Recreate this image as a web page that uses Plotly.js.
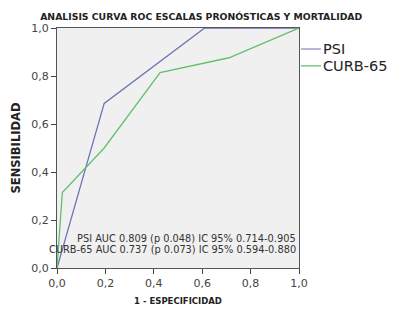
<!DOCTYPE html>
<html><head><meta charset="utf-8">
<script src="https://cdn.plot.ly/plotly-3.0.1.min.js"></script>
<style>body{margin:0;padding:0;background:#fff}#chart{width:393px;height:315px}</style>
</head><body><div id="chart"></div>
<script>
const psiX = [0, 0.195, 0.61, 1.0];
const psiY = [0, 0.686, 1.0, 1.0];
const curbX = [0, 0.022, 0.195, 0.426, 0.711, 1.0];
const curbY = [0, 0.314, 0.50, 0.814, 0.876, 1.0];
const seriesNames = ['PSI', 'CURB-65'];
const seriesColors = ['#6d72b8', '#62c06e'];
const aucLines = ['PSI AUC 0.809 (p 0.048) IC 95% 0.714-0.905', 'CURB-65 AUC 0.737 (p 0.073) IC 95% 0.594-0.880'];
const tickVals = [0, 0.2, 0.4, 0.6, 0.8, 1.0];

const F = '"DejaVu Sans", "Open Sans", sans-serif';
const traces = [
  {x: psiX, y: psiY, mode: 'lines', name: seriesNames[0], line: {color: seriesColors[0], width: 1.3}},
  {x: curbX, y: curbY, mode: 'lines', name: seriesNames[1], line: {color: seriesColors[1], width: 1.3}}
];
const axBase = {range: [0, 1], tickvals: tickVals, tickformat: '.1f', ticks: 'outside', ticklen: 5, tickcolor: '#444',
  showline: true, linecolor: '#555', linewidth: 1, mirror: true, showgrid: false, zeroline: false,
  tickfont: {family: F, size: 11, color: '#444'}};
// legend keys (outside the plot, right side)
const legendY = [0.9125, 0.842];
const legendAnn = seriesNames.map((n, i) => ({
  xref: 'paper', yref: 'paper', x: 1.008, y: legendY[i], ax: 20, ay: 0, xanchor: 'left', yanchor: 'middle',
  text: n, showarrow: true, arrowhead: 0, arrowwidth: 1.2, arrowcolor: seriesColors[i], standoff: 0, startstandoff: 0,
  font: {family: F, size: 14.5, color: '#222'}
}));
const aucY = [0.121, 0.079];
const aucAnn = aucLines.map((t, i) => ({
  xref: 'paper', yref: 'paper', x: 0.997, y: aucY[i], xanchor: 'right', yanchor: 'middle', text: t, showarrow: false,
  font: {family: F, size: 9.8, color: '#333'}
}));
const layout = {
  width: 393, height: 315,
  margin: {l: 57, r: 94, t: 28, b: 47, autoexpand: false},
  paper_bgcolor: '#ffffff', plot_bgcolor: '#f0f0f0',
  separators: ',.',
  title: {text: '<b>ANALISIS CURVA ROC ESCALAS PRONÓSTICAS Y MORTALIDAD</b>', font: {family: F, size: 9.3, color: '#222'}, x: 0.512, xanchor: 'center', y: 0.948, yanchor: 'middle'},
  xaxis: Object.assign({}, axBase, {title: {text: '<b>1 - ESPECIFICIDAD</b>', font: {family: F, size: 8.5, color: '#222'}, standoff: 8}}),
  yaxis: Object.assign({}, axBase, {title: {text: '<b>SENSIBILIDAD</b>', font: {family: F, size: 11.5, color: '#222'}, standoff: 8}}),
  showlegend: false,
  annotations: aucAnn.concat(legendAnn)
};
Plotly.newPlot('chart', traces, layout, {staticPlot: true, displayModeBar: false});
</script></body></html>
